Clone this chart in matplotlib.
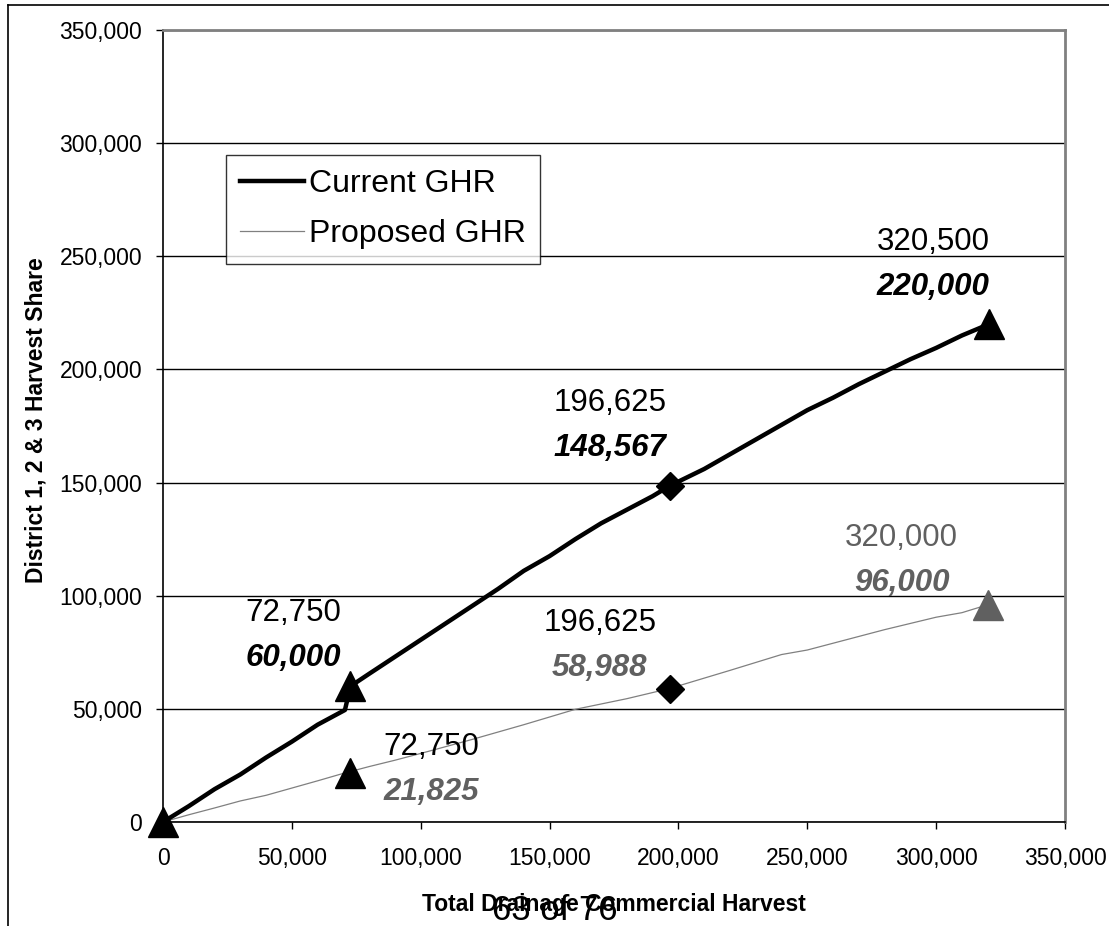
import matplotlib
matplotlib.use("Agg")
import matplotlib.pyplot as plt
from matplotlib.lines import Line2D
from matplotlib.ticker import FuncFormatter

# ---------------- data ----------------
cur_x = [0, 10000, 20000, 30000, 40000, 50000, 60000, 70600, 72750, 80000, 90000,
         100000, 110000, 120000, 130000, 140000, 150000, 160000, 170000, 180000,
         190000, 196625, 210000, 220000, 230000, 240000, 250000, 260000, 270000,
         280000, 290000, 300000, 310000, 320500]
cur_y = [0, 7000, 14500, 21000, 28500, 35500, 43000, 49500, 60000, 65500, 73000,
         80500, 88000, 95500, 103000, 111000, 117500, 125000, 132000, 138000,
         144000, 148567, 156000, 162500, 169000, 175500, 182000, 187500, 193500,
         199000, 204500, 209500, 215000, 220000]

prop_x = [0, 10000, 20000, 30000, 40000, 50000, 60000, 70000, 80000, 90000,
          100000, 120000, 140000, 160000, 180000, 196625, 220000, 240000, 250000,
          260000, 280000, 300000, 310000, 320000]
prop_y = [0, 3200, 6200, 9300, 11800, 15000, 18200, 21500, 24500, 27300,
          30300, 36500, 43000, 49800, 54500, 59000, 67000, 74000, 76000,
          79000, 85000, 90500, 92500, 96000]

# marker points
cur_pts_x = [0, 72750, 196625, 320500]
cur_pts_y = [0, 60000, 148567, 220000]
cur_pts_m = ["^", "^", "D", "^"]
prop_pts_x = [72750, 196625, 320000]
prop_pts_y = [21825, 58988, 96000]
prop_pts_m = ["^", "D", "^"]
prop_pts_c = ["black", "black", "#606060"]

# annotation labels
labels_top = ["72,750", "196,625", "320,500", "72,750", "196,625", "320,000"]
labels_bot = ["60,000", "148,567", "220,000", "21,825", "58,988", "96,000"]
labels_top_c = ["black", "black", "black", "black", "black", "#606060"]
labels_bot_c = ["black", "black", "black", "#606060", "#606060", "#606060"]
labels_pos_x = [50660, 173400, 298900, 104200, 169500, 286650]
labels_pos_y = [85760, 178600, 249780, 26530, 81340, 118920]

xticks = [0, 50000, 100000, 150000, 200000, 250000, 300000, 350000]
yticks = [0, 50000, 100000, 150000, 200000, 250000, 300000, 350000]

plt.rcParams['font.family'] = ['Liberation Sans', 'DejaVu Sans']

W, H = 1109, 926
fig = plt.figure(figsize=(W / 100, H / 100), dpi=100)
L, R, T, B = 163, 1065, 30, 822
ax = fig.add_axes([L / W, 1 - B / H, (R - L) / W, (B - T) / H])

ax.set_xlim(0, 350000)
ax.set_ylim(0, 350000)
ax.set_xticks(xticks)
ax.set_yticks(yticks)
fmt = FuncFormatter(lambda v, p: f"{int(v):,}")
ax.xaxis.set_major_formatter(fmt)
ax.yaxis.set_major_formatter(fmt)
ax.tick_params(axis='both', labelsize=16.5, direction='out', length=5, width=1,
               colors='black')
ax.tick_params(axis='x', pad=13)
ax.tick_params(axis='y', pad=10)

ax.grid(axis='y', color='black', linewidth=1)
ax.set_axisbelow(True)
for s in ['left', 'bottom']:
    ax.spines[s].set_color('black')
    ax.spines[s].set_linewidth(1.2)
for s in ['top', 'right']:
    ax.spines[s].set_color('#808080')
    ax.spines[s].set_linewidth(2)

ax.plot(prop_x, prop_y, color='#808080', linewidth=0.9, zorder=3)
ax.plot(cur_x, cur_y, color='black', linewidth=3.2, zorder=4)

for x, y, m in zip(cur_pts_x, cur_pts_y, cur_pts_m):
    ax.plot([x], [y], marker=m, color='black', markersize=21 if m == '^' else 14.5,
            linestyle='none', zorder=5, clip_on=False)
for x, y, m, c in zip(prop_pts_x, prop_pts_y, prop_pts_m, prop_pts_c):
    ax.plot([x], [y], marker=m, color=c, markersize=21 if m == '^' else 14.5,
            linestyle='none', zorder=5, clip_on=False)

for tt, bt, tc, bc, x, y in zip(labels_top, labels_bot, labels_top_c, labels_bot_c,
                                labels_pos_x, labels_pos_y):
    ax.annotate(tt, (x, y), xytext=(0, 0), textcoords='offset points',
                ha='center', va='bottom', fontsize=22.5, color=tc)
    ax.annotate(bt, (x, y), xytext=(0, -11), textcoords='offset points',
                ha='center', va='top', fontsize=22.5, color=bc,
                fontweight='bold', fontstyle='italic')

handles = [Line2D([], [], color='black', linewidth=3.2),
           Line2D([], [], color='#808080', linewidth=0.9)]
leg = ax.legend(handles, ['Current GHR', 'Proposed GHR'], loc='upper left',
                bbox_to_anchor=((226 - L) / (R - L), 1 - (155 - T) / (B - T)),
                fontsize=23, frameon=True, fancybox=False, edgecolor='black',
                handlelength=2.0, handletextpad=0.15, labelspacing=0.62,
                borderpad=0.45, borderaxespad=0)
leg.get_frame().set_linewidth(1)
leg.set_zorder(6)

fig.text(614 / W, 1 - 904 / H, 'Total Drainage Commercial Harvest', ha='center',
         va='center', fontsize=16.5, fontweight='bold')
fig.text(36 / W, 1 - 420 / H, 'District 1, 2 & 3 Harvest Share', ha='center',
         va='center', rotation=90, fontsize=16.5, fontweight='bold')
fig.text(555 / W, 1 - 910 / H, '63 of 76', ha='center', va='center', fontsize=25)

fig.add_artist(Line2D([8 / W, 8 / W], [0, 1 - 5 / H], color='black', linewidth=1.2,
                      transform=fig.transFigure))
fig.add_artist(Line2D([8 / W, 1], [1 - 5 / H, 1 - 5 / H], color='black',
                      linewidth=1.2, transform=fig.transFigure))

fig.savefig('out.png', dpi=100)
